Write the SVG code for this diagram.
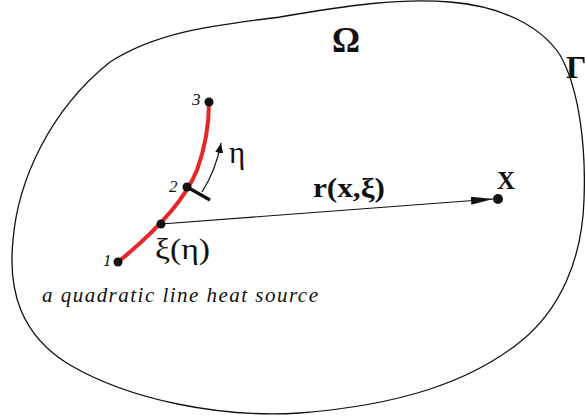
<svg xmlns="http://www.w3.org/2000/svg" width="585" height="419" viewBox="0 0 585 419">
<style>
.serif{font-family:"Liberation Serif","Times New Roman",serif;fill:#111}
.b{font-weight:bold}
.i{font-style:italic}
.dot{fill:#111}
</style>
<defs>
<marker id="ah" viewBox="0 0 22 8" refX="22" refY="4" markerWidth="22" markerHeight="8" markerUnits="userSpaceOnUse" orient="auto">
<path d="M0,0 L22,4 L0,8 Z" fill="#111"/>
</marker>
<marker id="ah2" viewBox="0 0 10 8" refX="10" refY="4" markerWidth="10" markerHeight="8" markerUnits="userSpaceOnUse" orient="auto">
<path d="M0,0 L10,4 L0,8 Z" fill="#111"/>
</marker>
</defs>
<rect width="585" height="419" fill="#fff"/>
<g id="domain">
<path d="M280,17 C350,5 400,-2 450,2 C500,6 540,25 560,55 C580,90 586,150 584,200 C582,260 560,310 520,342 C470,382 400,405 300,413 C220,418 130,400 70,365 C20,335 8,290 13,240 C18,180 50,110 110,62 C160,30 220,25 280,17 Z" fill="none" stroke="#111" stroke-width="1.3"/>
<text class="serif b" x="332" y="52" font-size="35">Ω</text>
<text class="serif b" x="566" y="78" font-size="32">Γ</text>
</g>
<g id="source">
<path d="M118,262 C155,232 185,200 197,170 C205,148 209,125 209,102" fill="none" stroke="#e8262a" stroke-width="4"/>
<line x1="187" y1="187" x2="210" y2="200" stroke="#111" stroke-width="3.2"/>
<circle class="dot" cx="118" cy="262" r="4.5"/>
<circle class="dot" cx="161" cy="224" r="4.5"/>
<circle class="dot" cx="187" cy="187" r="4.5"/>
<circle class="dot" cx="209" cy="102" r="4.5"/>
<text class="serif i" x="103" y="266" font-size="17">1</text>
<text class="serif i" x="169" y="192" font-size="17">2</text>
<text class="serif i" x="192" y="105" font-size="17">3</text>
<text class="serif" x="155" y="259" font-size="29" textLength="55" lengthAdjust="spacingAndGlyphs">ξ(η)</text>
<text class="serif" x="229" y="163" font-size="31">η</text>
<text class="serif i" x="42" y="302" font-size="21" textLength="276">a quadratic line heat source</text>
</g>
<g id="point">
<circle class="dot" cx="498" cy="199" r="5"/>
<text class="serif b" x="497" y="189" font-size="25">X</text>
</g>
<g id="connectors">
<line x1="161" y1="224" x2="493" y2="199" stroke="#111" stroke-width="1.2" marker-end="url(#ah)"/>
<path d="M202,192 Q216,170 221,143" fill="none" stroke="#111" stroke-width="1.3" marker-end="url(#ah2)"/>
<text class="serif b" x="313" y="197" font-size="27" textLength="72" lengthAdjust="spacingAndGlyphs">r(x,ξ)</text>
</g>
</svg>
